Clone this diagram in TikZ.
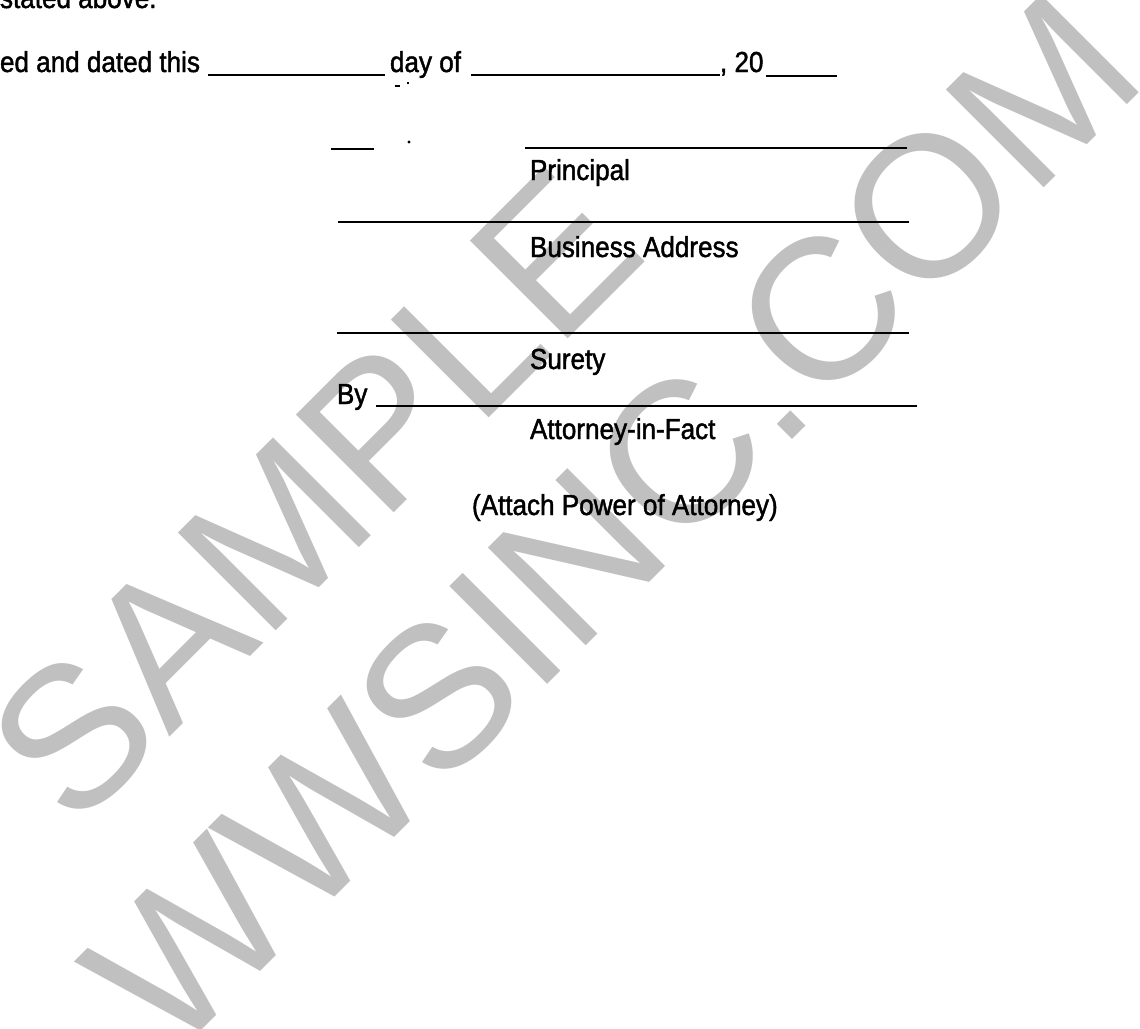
\documentclass[tikz,border=0pt]{standalone}
\usepackage{fontspec}
\setmainfont{Liberation Sans}
\newfontfamily\formfont{Liberation Sans}[FakeStretch=0.9, FakeBold=1.5]
\usepackage{xcolor}
\usetikzlibrary{positioning, calc}

\definecolor{wmgray}{RGB}{192,192,192}

\begin{document}
\begin{tikzpicture}[
    x=0.025cm, y=-0.025cm,
    every node/.style={inner sep=0pt, outer sep=0pt},
    formtext/.style={font=\formfont\fontsize{20.6}{24}\selectfont, anchor=base west},
    sigline/.style={line width=2.1pt},
    blank/.style={line width=1.8pt},
    wmark/.style={font=\fontsize{143}{143}\selectfont, text=wmgray, rotate=45}
]
\useasboundingbox (0,0) rectangle (1140,1028);

% watermark behind the form
\node[wmark] (wmsample) at (314,495) {SAMPLE};
\node[wmark] (wmsite)   at (612,522) {WWSINC.COM};

% top of the page, cut off
\node[formtext] (stated) at (0,8) {stated above.};

% date line
\node[formtext] (dated)  at (0,72)   {ed and dated this};
\node[formtext] (dayof)  at (390,72) {day of};
\node[formtext] (twenty) at (720,72) {, 20};
\coordinate (b1s) at (208,75); \coordinate (b1e) at (385,75);
\coordinate (b2s) at (471,75); \coordinate (b2e) at (720,75);
\coordinate (b3s) at (766,76); \coordinate (b3e) at (837,76);
\draw[blank] (b1s) -- (b1e);
\draw[blank] (b2s) -- (b2e);
\draw[blank] (b3s) -- (b3e);
\draw[line width=0.8pt] (395,86) -- (400,86) (407,83) -- (409,83);

% signature block
\coordinate (p0) at (525,148); \coordinate (p1) at (907,148);
\draw[sigline] (p0) -- (p1);
\draw[sigline] (331,149) -- (374,149);
\fill (409,142) circle (1.6);
\node[formtext] (principal) at (530,180) {Principal};

\coordinate (a0) at (338,222); \coordinate (a1) at (909,222);
\draw[sigline] (a0) -- (a1);
\node[formtext] (address) at (530,257) {Business Address};

\coordinate (s0) at (337,333); \coordinate (s1) at (909,333);
\draw[sigline] (s0) -- (s1);
\node[formtext] (surety) at (530,369) {Surety};

\node[formtext] (byword) at (337,404) {By};
\coordinate (f0) at (376,406); \coordinate (f1) at (917,406);
\draw[sigline] (f0) -- (f1);
\node[formtext] (attorney) at (530,439) {Attorney-in-Fact};

\node[formtext] (attach) at (472,515) {(Attach Power of Attorney)};
\end{tikzpicture}
\end{document}
